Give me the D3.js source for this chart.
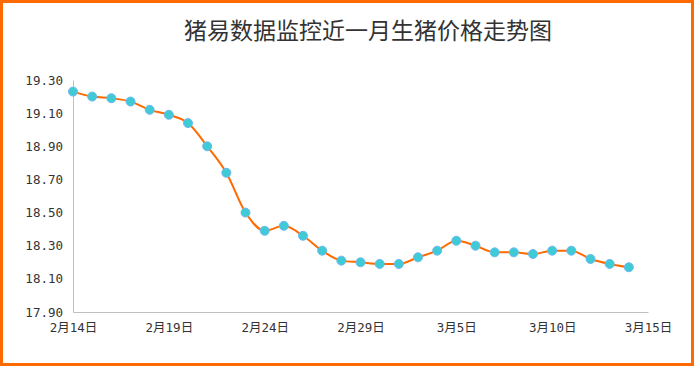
<!DOCTYPE html>
<html>
<head>
<meta charset="utf-8">
<script src="https://cdn.jsdelivr.net/npm/d3@7"></script>
<style>
  html, body { margin: 0; padding: 0; background: #fff; }
  #chart { width: 694px; height: 366px; }
</style>
</head>
<body>
<div id="chart"></div>
<script>
// 2024年 2月14日 ~ 3月14日 每日生猪均价
const startDate = '2024-02-14';
const prices = [
  19.23, 19.20, 19.19, 19.17, 19.12, 19.09, 19.04, 18.90, 18.74, 18.50,
  18.39, 18.42, 18.36, 18.27, 18.21, 18.20, 18.19, 18.19, 18.23, 18.27,
  18.33, 18.30, 18.26, 18.26, 18.25, 18.27, 18.27, 18.22, 18.19, 18.17
];
const yTicks = [17.90, 18.10, 18.30, 18.50, 18.70, 18.90, 19.10, 19.30];
const xTickDates = ['2024-02-14', '2024-02-19', '2024-02-24', '2024-02-29', '2024-03-05', '2024-03-10', '2024-03-15'];
const title = '猪易数据监控近一月生猪价格走势图';

const parse = d3.timeParse('%Y-%m-%d');
const start = parse(startDate);
const data = prices.map((v, i) => ({ date: d3.timeDay.offset(start, i), value: v }));

const width = 694, height = 366;
const margin = { top: 80, right: 46, bottom: 54, left: 73 };

const svg = d3.select('#chart').append('svg')
  .attr('width', width)
  .attr('height', height);

// 外框
svg.append('rect')
  .attr('x', 1.5).attr('y', 1.5)
  .attr('width', width - 3).attr('height', height - 3)
  .attr('fill', '#fff')
  .attr('stroke', '#ff6a00')
  .attr('stroke-width', 3);

// 标题
svg.append('text')
  .attr('x', 368).attr('y', 39)
  .attr('text-anchor', 'middle')
  .style('font-family', '"Noto Sans CJK SC", sans-serif')
  .style('font-size', '23px')
  .style('fill', '#333')
  .text(title);

const x = d3.scaleTime()
  .domain([start, parse(xTickDates[xTickDates.length - 1])])
  .range([margin.left, width - margin.right]);

const y = d3.scaleLinear()
  .domain([17.90, 19.30])
  .range([height - margin.bottom, margin.top]);

const fmtX = d => (d.getMonth() + 1) + '月' + d.getDate() + '日';

const xAxis = svg.append('g')
  .attr('transform', `translate(0,${height - margin.bottom})`)
  .call(d3.axisBottom(x)
    .tickValues(xTickDates.map(parse))
    .tickFormat(fmtX)
    .tickSize(0)
    .tickPadding(11));

const yAxis = svg.append('g')
  .attr('transform', `translate(${margin.left},0)`)
  .call(d3.axisLeft(y)
    .tickValues(yTicks)
    .tickFormat(d3.format('.2f'))
    .tickSize(0)
    .tickPadding(10));

[xAxis, yAxis].forEach(g => {
  g.select('.domain').attr('stroke', '#c0c0c0').attr('stroke-width', 1);
  g.selectAll('text')
    .style('font-family', '"DejaVu Sans Mono", "Noto Sans CJK SC", monospace')
    .style('font-size', '12.5px')
    .style('fill', '#333');
});

// 折线
const line = d3.line()
  .x(d => x(d.date))
  .y(d => y(d.value))
  .curve(d3.curveMonotoneX);

svg.append('path')
  .datum(data)
  .attr('d', line)
  .attr('fill', 'none')
  .attr('stroke', '#ff6a00')
  .attr('stroke-width', 2);

// 数据点
svg.selectAll('.dot')
  .data(data)
  .enter()
  .append('circle')
  .attr('class', 'dot')
  .attr('cx', d => x(d.date))
  .attr('cy', d => y(d.value))
  .attr('r', 4.5)
  .attr('fill', '#3ecbd6')
  .attr('stroke', '#6fb8f0')
  .attr('stroke-width', 1);
</script>
</body>
</html>
